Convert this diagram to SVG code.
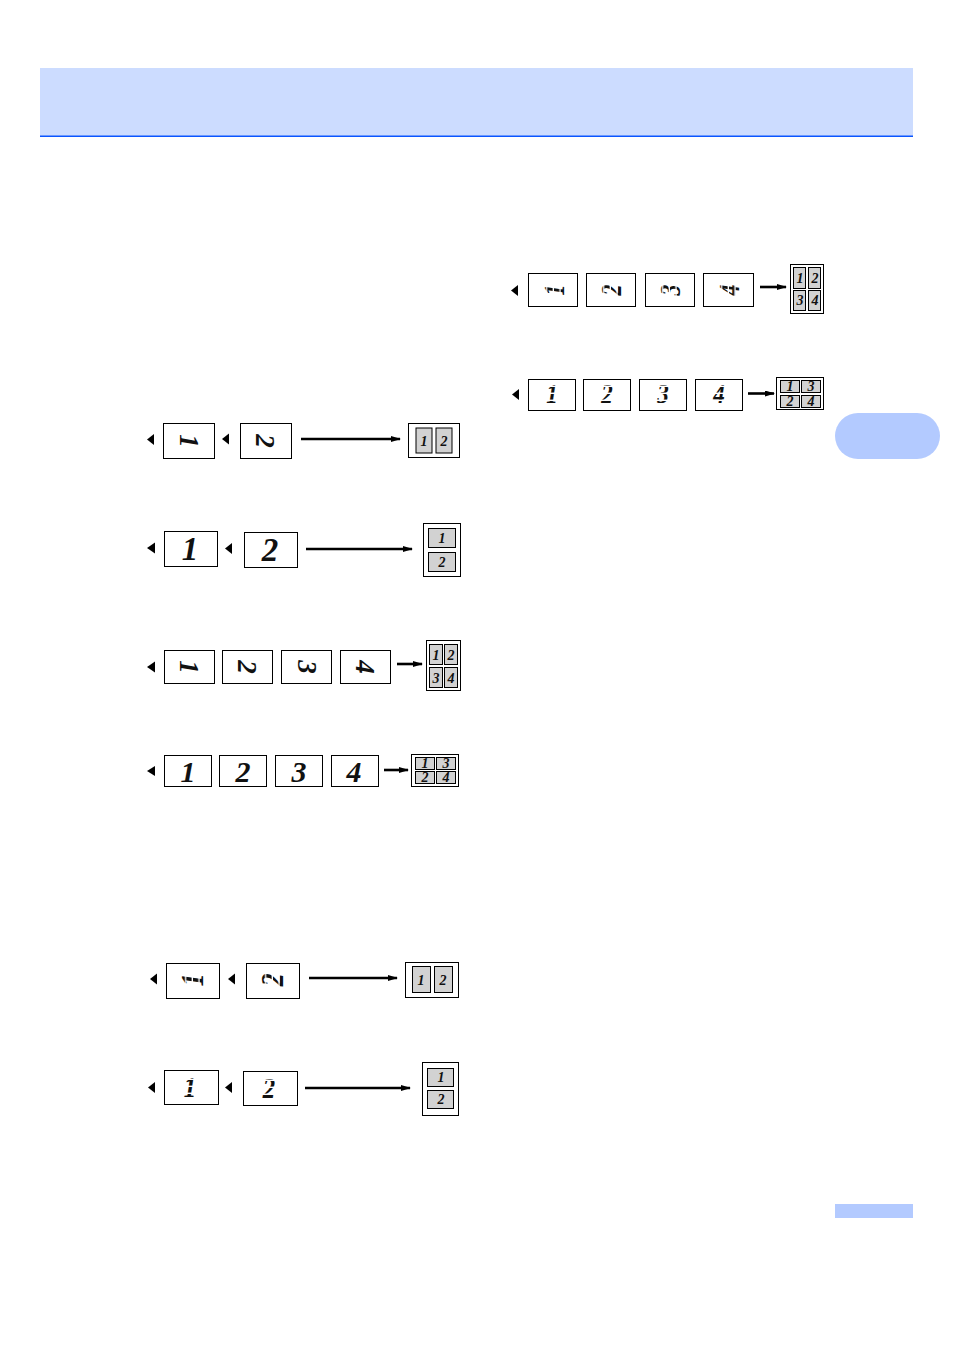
<svg xmlns="http://www.w3.org/2000/svg" width="954" height="1350" viewBox="0 0 954 1350">
<style>
.pg{fill:#fff;stroke:#000;stroke-width:1}
.out{fill:#fff;stroke:#000;stroke-width:1}
.cell{fill:#d2d2d2;stroke:#000;stroke-width:1}
.big{font-family:"Liberation Serif","Times New Roman",serif;font-weight:bold;font-style:italic;text-anchor:middle;fill:#111}
.brk{font-family:"Liberation Serif","Times New Roman",serif;font-weight:bold;font-style:italic;text-anchor:middle;fill:url(#stripes)}
.sm{font-family:"Liberation Serif","Times New Roman",serif;font-weight:bold;font-style:italic;font-size:14px;text-anchor:middle;fill:#111}
.ln{stroke:#000;stroke-width:2.6;fill:none}
.tri{fill:#000}
</style>
<defs>
<pattern id="stripes" patternUnits="userSpaceOnUse" width="20" height="7">
<rect x="0" y="0" width="20" height="5.6" fill="#111"/>
</pattern>
<marker id="ah" viewBox="0 0 10 6" refX="9" refY="3" markerWidth="10" markerHeight="6" markerUnits="userSpaceOnUse" orient="auto">
<path d="M0,0 L10,3 L0,6 Z" fill="#000"/>
</marker>
</defs>

<g id="header">
<rect x="40" y="68" width="873" height="68" fill="#ccdcff"/>
<rect x="40" y="135.5" width="873" height="1.5" fill="#0a55ff"/>
</g>
<rect id="side-tab" x="835" y="413" width="105" height="46" rx="23" ry="23" fill="#b3caff"/>
<rect id="page-bar" x="835" y="1204" width="78" height="14" fill="#b3caff"/>

<!-- Row 1 -->
<g id="r1-p1"><rect class="pg" x="163.5" y="423.5" width="51" height="35"/><text class="big" font-size="27" transform="translate(189,441) rotate(90)" y="9">1</text></g>
<g id="r1-p2"><rect class="pg" x="240.5" y="423.5" width="51" height="35"/><text class="big" font-size="27" transform="translate(265,441) rotate(90)" y="9">2</text></g>
<g id="r1-out"><rect class="out" x="408.5" y="423.5" width="51" height="34"/><rect class="cell" x="416" y="428" width="16" height="25"/><rect class="cell" x="436" y="428" width="16" height="25"/><text class="sm" x="424" y="446">1</text><text class="sm" x="444" y="446">2</text></g>

<!-- Row 2 -->
<g id="r2-p1"><rect class="pg" x="164.5" y="531.5" width="53" height="35"/><text class="big" font-size="33" x="190" y="560">1</text></g>
<g id="r2-p2"><rect class="pg" x="244.5" y="532.5" width="53" height="35"/><text class="big" font-size="33" x="270" y="561">2</text></g>
<g id="r2-out"><rect class="out" x="423.5" y="523.5" width="37" height="53"/><rect class="cell" x="428.5" y="528.5" width="27" height="19"/><rect class="cell" x="428.5" y="552.5" width="27" height="19"/><text class="sm" x="442" y="543">1</text><text class="sm" x="442" y="567">2</text></g>

<!-- Row 3 -->
<g id="r3-p1"><rect class="pg" x="164.5" y="650.5" width="50" height="33"/><text class="big" font-size="27" transform="translate(189,667) rotate(90)" y="9">1</text></g>
<g id="r3-p2"><rect class="pg" x="222.5" y="650.5" width="50" height="33"/><text class="big" font-size="27" transform="translate(247,667) rotate(90)" y="9">2</text></g>
<g id="r3-p3"><rect class="pg" x="281.5" y="650.5" width="50" height="33"/><text class="big" font-size="27" transform="translate(307,667) rotate(90)" y="9">3</text></g>
<g id="r3-p4"><rect class="pg" x="340.5" y="650.5" width="50" height="33"/><text class="big" font-size="27" transform="translate(365,667) rotate(90)" y="9">4</text></g>
<g id="r3-out"><rect class="out" x="426.5" y="640.5" width="34" height="50"/><rect class="cell" x="429.5" y="644.5" width="13" height="20"/><rect class="cell" x="444.5" y="644.5" width="13" height="20"/><rect class="cell" x="429.5" y="667.5" width="13" height="20"/><rect class="cell" x="444.5" y="667.5" width="13" height="20"/><text class="sm" x="436" y="660">1</text><text class="sm" x="451" y="660">2</text><text class="sm" x="436" y="683">3</text><text class="sm" x="451" y="683">4</text></g>

<!-- Row 4 -->
<g id="r4-p1"><rect class="pg" x="164.5" y="755.5" width="47" height="31"/><text class="big" font-size="30" x="188" y="782">1</text></g>
<g id="r4-p2"><rect class="pg" x="219.5" y="755.5" width="47" height="31"/><text class="big" font-size="30" x="243" y="782">2</text></g>
<g id="r4-p3"><rect class="pg" x="275.5" y="755.5" width="47" height="31"/><text class="big" font-size="30" x="299" y="782">3</text></g>
<g id="r4-p4"><rect class="pg" x="331.5" y="755.5" width="47" height="31"/><text class="big" font-size="30" x="354" y="782">4</text></g>
<g id="r4-out"><rect class="out" x="411.5" y="754.5" width="47" height="32"/><rect class="cell" x="415.5" y="757.5" width="19" height="12"/><rect class="cell" x="436.5" y="757.5" width="19" height="12"/><rect class="cell" x="415.5" y="771.5" width="19" height="12"/><rect class="cell" x="436.5" y="771.5" width="19" height="12"/><text class="sm" font-size="13" x="425" y="768">1</text><text class="sm" font-size="13" x="446" y="768">3</text><text class="sm" font-size="13" x="425" y="782">2</text><text class="sm" font-size="13" x="446" y="782">4</text></g>

<!-- Row 5 -->
<g id="r5-p1"><rect class="pg" x="166.5" y="963.5" width="53" height="35"/><text class="brk" font-size="34" transform="translate(193,980) rotate(-90) scale(0.75,0.95)" y="11">1</text></g>
<g id="r5-p2"><rect class="pg" x="246.5" y="963.5" width="53" height="35"/><text class="brk" font-size="34" transform="translate(273,980) rotate(-90) scale(0.75,0.95)" y="11">2</text></g>
<g id="r5-out"><rect class="out" x="405.5" y="962.5" width="53" height="35"/><rect class="cell" x="412.5" y="966.5" width="18" height="26"/><rect class="cell" x="434.5" y="966.5" width="18" height="26"/><text class="sm" font-size="16" x="421" y="985">1</text><text class="sm" font-size="16" x="443" y="985">2</text></g>

<!-- Row 6 -->
<g id="r6-p1"><rect class="pg" x="164.5" y="1070.5" width="54" height="34"/><text class="brk" font-size="29" transform="translate(190,1087) scale(0.85,1)" y="10">1</text></g>
<g id="r6-p2"><rect class="pg" x="243.5" y="1071.5" width="54" height="34"/><text class="brk" font-size="29" transform="translate(269,1088) scale(0.85,1)" y="10">2</text></g>
<g id="r6-out"><rect class="out" x="422.5" y="1062.5" width="36" height="53"/><rect class="cell" x="427.5" y="1068.5" width="26" height="18"/><rect class="cell" x="427.5" y="1090.5" width="26" height="18"/><text class="sm" x="441" y="1082">1</text><text class="sm" x="441" y="1104">2</text></g>

<!-- Right row 1 -->
<g id="q1-p1"><rect class="pg" x="528.5" y="273.5" width="49" height="33"/><text class="brk" font-size="31" transform="translate(554,290) rotate(-90) scale(0.7,0.95)" y="10">1</text></g>
<g id="q1-p2"><rect class="pg" x="586.5" y="273.5" width="49" height="33"/><text class="brk" font-size="31" transform="translate(611,290) rotate(-90) scale(0.7,0.95)" y="10">2</text></g>
<g id="q1-p3"><rect class="pg" x="645.5" y="273.5" width="49" height="33"/><text class="brk" font-size="31" transform="translate(670,290) rotate(-90) scale(0.7,0.95)" y="10">3</text></g>
<g id="q1-p4"><rect class="pg" x="703.5" y="273.5" width="50" height="33"/><text class="brk" font-size="31" transform="translate(729,290) rotate(-90) scale(0.7,0.95)" y="10">4</text></g>
<g id="q1-out"><rect class="out" x="790.5" y="264.5" width="33" height="49"/><rect class="cell" x="793.5" y="267.5" width="12" height="21"/><rect class="cell" x="808.5" y="267.5" width="12" height="21"/><rect class="cell" x="793.5" y="290.5" width="12" height="20"/><rect class="cell" x="808.5" y="290.5" width="12" height="20"/><text class="sm" x="800" y="283">1</text><text class="sm" x="815" y="283">2</text><text class="sm" x="800" y="305">3</text><text class="sm" x="815" y="305">4</text></g>

<!-- Right row 2 -->
<g id="q2-p1"><rect class="pg" x="528.5" y="379.5" width="47" height="31"/><text class="brk" font-size="27" transform="translate(552,394) scale(0.85,1)" y="9">1</text></g>
<g id="q2-p2"><rect class="pg" x="583.5" y="379.5" width="47" height="31"/><text class="brk" font-size="27" transform="translate(607,394) scale(0.85,1)" y="9">2</text></g>
<g id="q2-p3"><rect class="pg" x="639.5" y="379.5" width="47" height="31"/><text class="brk" font-size="27" transform="translate(663,394) scale(0.85,1)" y="9">3</text></g>
<g id="q2-p4"><rect class="pg" x="695.5" y="379.5" width="47" height="31"/><text class="brk" font-size="27" transform="translate(719,394) scale(0.85,1)" y="9">4</text></g>
<g id="q2-out"><rect class="out" x="776.5" y="377.5" width="47" height="32"/><rect class="cell" x="780.5" y="380.5" width="19" height="12"/><rect class="cell" x="801.5" y="380.5" width="19" height="12"/><rect class="cell" x="780.5" y="395.5" width="19" height="12"/><rect class="cell" x="801.5" y="395.5" width="19" height="12"/><text class="sm" font-size="13" x="790" y="391">1</text><text class="sm" font-size="13" x="811" y="391">3</text><text class="sm" font-size="13" x="790" y="406">2</text><text class="sm" font-size="13" x="811" y="406">4</text></g>

<g id="connectors">
<path class="tri" d="M147,439.5 L154,434 L154,445 Z"/>
<path class="tri" d="M222,439 L229,433.5 L229,444.5 Z"/>
<path class="tri" d="M147,548 L155,542.5 L155,553.5 Z"/>
<path class="tri" d="M225,548.5 L232,543 L232,554 Z"/>
<path class="tri" d="M147,667 L155,661.5 L155,672.5 Z"/>
<path class="tri" d="M147,771 L155,766 L155,776 Z"/>
<path class="tri" d="M150,979 L157,973.5 L157,984.5 Z"/>
<path class="tri" d="M228,979 L235,973.5 L235,984.5 Z"/>
<path class="tri" d="M148,1087.5 L155,1082 L155,1093 Z"/>
<path class="tri" d="M225,1087.5 L232,1082 L232,1093 Z"/>
<path class="tri" d="M511,290.5 L518,285 L518,296 Z"/>
<path class="tri" d="M512,394.5 L519,389 L519,400 Z"/>
<line class="ln" x1="301" y1="439" x2="400" y2="439" marker-end="url(#ah)"/>
<line class="ln" x1="306" y1="549" x2="412" y2="549" marker-end="url(#ah)"/>
<line class="ln" x1="397" y1="664" x2="422" y2="664" marker-end="url(#ah)"/>
<line class="ln" x1="384" y1="770" x2="408" y2="770" marker-end="url(#ah)"/>
<line class="ln" x1="309" y1="978" x2="397" y2="978" marker-end="url(#ah)"/>
<line class="ln" x1="305" y1="1088" x2="410" y2="1088" marker-end="url(#ah)"/>
<line class="ln" x1="760" y1="287" x2="786" y2="287" marker-end="url(#ah)"/>
<line class="ln" x1="748" y1="393.5" x2="774" y2="393.5" marker-end="url(#ah)"/>
</g>
</svg>
